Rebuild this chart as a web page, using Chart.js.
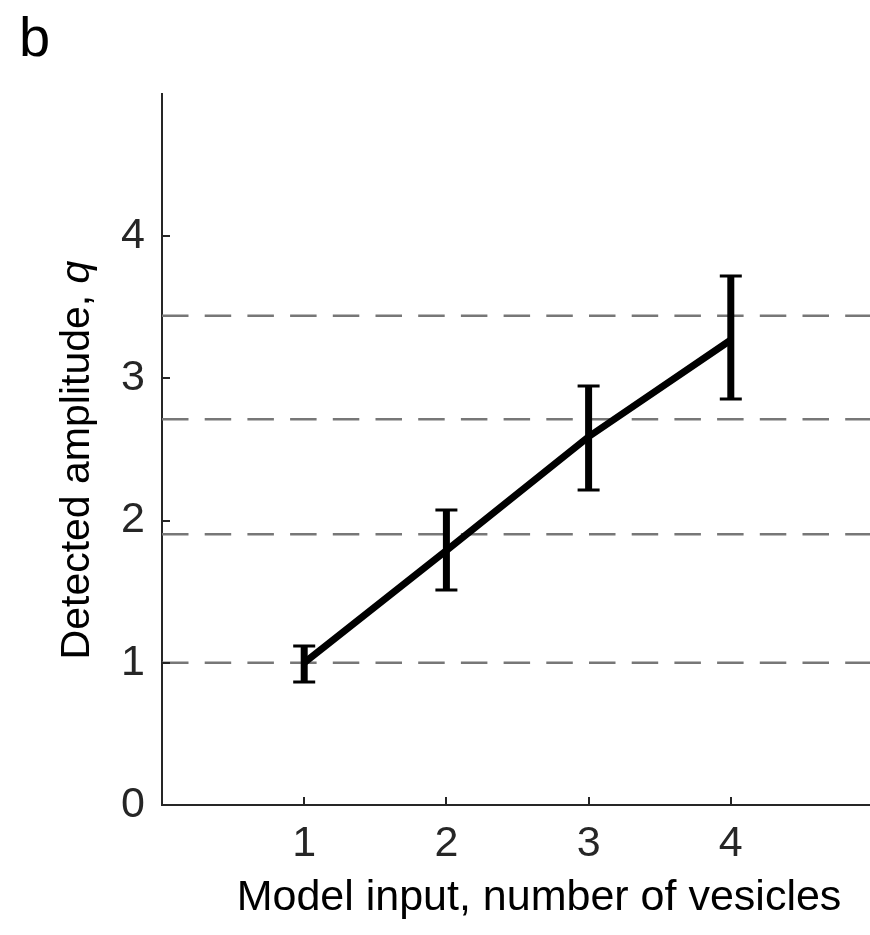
<!DOCTYPE html>
<html>
<head>
<meta charset="utf-8">
<script src="https://cdn.jsdelivr.net/npm/chart.js@4"></script>
<style>
  html, body { margin: 0; padding: 0; background: #fff; overflow: hidden; }
  #wrap { width: 878px; height: 935px; }
</style>
</head>
<body>
<div id="wrap"><canvas id="c" width="878" height="935"></canvas></div>
<script>
// ---- data ----
const vesicles = [1, 2, 3, 4];
const meanAmp = [1.0, 1.79, 2.59, 3.27];
const lowAmp  = [0.865, 1.512, 2.215, 2.855];
const highAmp = [1.118, 2.075, 2.947, 3.72];
const levels  = [1.0, 1.904, 2.712, 3.44];
const xTicks  = [1, 2, 3, 4];
const yTicks  = [0, 1, 2, 3, 4];
const xRange  = [0, 5];
const yRange  = [0, 5];

const panelLabel = 'b';
const xTitle = 'Model input, number of vesicles';
const yTitleMain = 'Detected amplitude, ';
const yTitleVar = 'q';

const AXIS = '#262626';
const FONT = '"Liberation Sans", Arial, Helvetica, sans-serif';
const FS = 43;
const FS_Y = 41;

const datasets = levels.map(v => ({
  data: [{x: xRange[0], y: v}, {x: xRange[1], y: v}],
  borderColor: '#777777',
  borderWidth: 2.5,
  borderDash: [26.5, 16.2],
  pointRadius: 0,
  fill: false,
  order: 2
}));
datasets.push({
  data: vesicles.map((x, i) => ({x, y: meanAmp[i]})),
  borderColor: '#000000',
  borderWidth: 7,
  pointRadius: 0,
  borderCapStyle: 'butt',
  borderJoinStyle: 'miter',
  fill: false,
  order: 1
});

const decor = {
  id: 'decor',
  afterDatasetsDraw(chart) {
    const {ctx, scales: {x, y}} = chart;
    ctx.save();
    ctx.strokeStyle = '#000';
    ctx.lineCap = 'butt';
    vesicles.forEach((v, i) => {
      const px = x.getPixelForValue(v);
      const pl = y.getPixelForValue(lowAmp[i]);
      const ph = y.getPixelForValue(highAmp[i]);
      ctx.lineWidth = 7;
      ctx.beginPath(); ctx.moveTo(px, pl); ctx.lineTo(px, ph); ctx.stroke();
      ctx.lineWidth = 3;
      ctx.beginPath();
      ctx.moveTo(px - 11, pl); ctx.lineTo(px + 11, pl);
      ctx.moveTo(px - 11, ph); ctx.lineTo(px + 11, ph);
      ctx.stroke();
    });
    ctx.restore();
  },
  afterDraw(chart) {
    const {ctx, chartArea, scales: {x, y}} = chart;
    ctx.save();
    ctx.strokeStyle = AXIS;
    ctx.lineWidth = 2;
    xTicks.forEach(t => {
      const px = Math.round(x.getPixelForValue(t));
      ctx.beginPath(); ctx.moveTo(px, chartArea.bottom); ctx.lineTo(px, chartArea.bottom - 8); ctx.stroke();
    });
    yTicks.forEach(t => {
      const py = Math.round(y.getPixelForValue(t));
      ctx.beginPath(); ctx.moveTo(chartArea.left, py); ctx.lineTo(chartArea.left + 8, py); ctx.stroke();
    });
    ctx.fillStyle = '#000';
    ctx.textBaseline = 'alphabetic';
    ctx.font = FS + 'px ' + FONT;
    ctx.textAlign = 'center';
    ctx.fillText(xTitle, 539, 910);
    ctx.save();
    ctx.translate(89, 460);
    ctx.rotate(-Math.PI / 2);
    ctx.font = FS_Y + 'px ' + FONT;
    const w1 = ctx.measureText(yTitleMain).width;
    ctx.font = 'italic ' + FS_Y + 'px ' + FONT;
    const w2 = ctx.measureText(yTitleVar).width;
    const start = -(w1 + w2) / 2;
    ctx.textAlign = 'left';
    ctx.font = FS_Y + 'px ' + FONT;
    ctx.fillText(yTitleMain, start, 0);
    ctx.font = 'italic ' + FS_Y + 'px ' + FONT;
    ctx.fillText(yTitleVar, start + w1, 0);
    ctx.restore();
    ctx.font = '56px ' + FONT;
    ctx.textAlign = 'left';
    ctx.fillText(panelLabel, 19, 56);
    ctx.restore();
  }
};

new Chart(document.getElementById('c'), {
  type: 'line',
  data: { datasets },
  options: {
    responsive: false,
    animation: false,
    events: [],
    layout: { padding: { top: 94, right: 5, left: 0, bottom: 0 } },
    plugins: { legend: { display: false }, tooltip: { enabled: false }, title: { display: false } },
    scales: {
      x: {
        type: 'linear',
        min: xRange[0], max: xRange[1],
        afterBuildTicks: s => { s.ticks = xTicks.map(v => ({value: v})); },
        afterFit: s => { s.height = 130; },
        grid: { display: false, drawTicks: false },
        border: { display: true, color: AXIS, width: 2 },
        ticks: { color: AXIS, font: { family: FONT, size: FS }, padding: 13, maxRotation: 0, autoSkip: false }
      },
      y: {
        type: 'linear',
        min: yRange[0], max: yRange[1],
        afterBuildTicks: s => { s.ticks = yTicks.map(v => ({value: v})); },
        afterFit: s => { s.width = 162; },
        grid: { display: false, drawTicks: false },
        border: { display: true, color: AXIS, width: 2 },
        ticks: { color: AXIS, font: { family: FONT, size: FS }, padding: 17, autoSkip: false }
      }
    }
  },
  plugins: [decor]
});
</script>
</body>
</html>
